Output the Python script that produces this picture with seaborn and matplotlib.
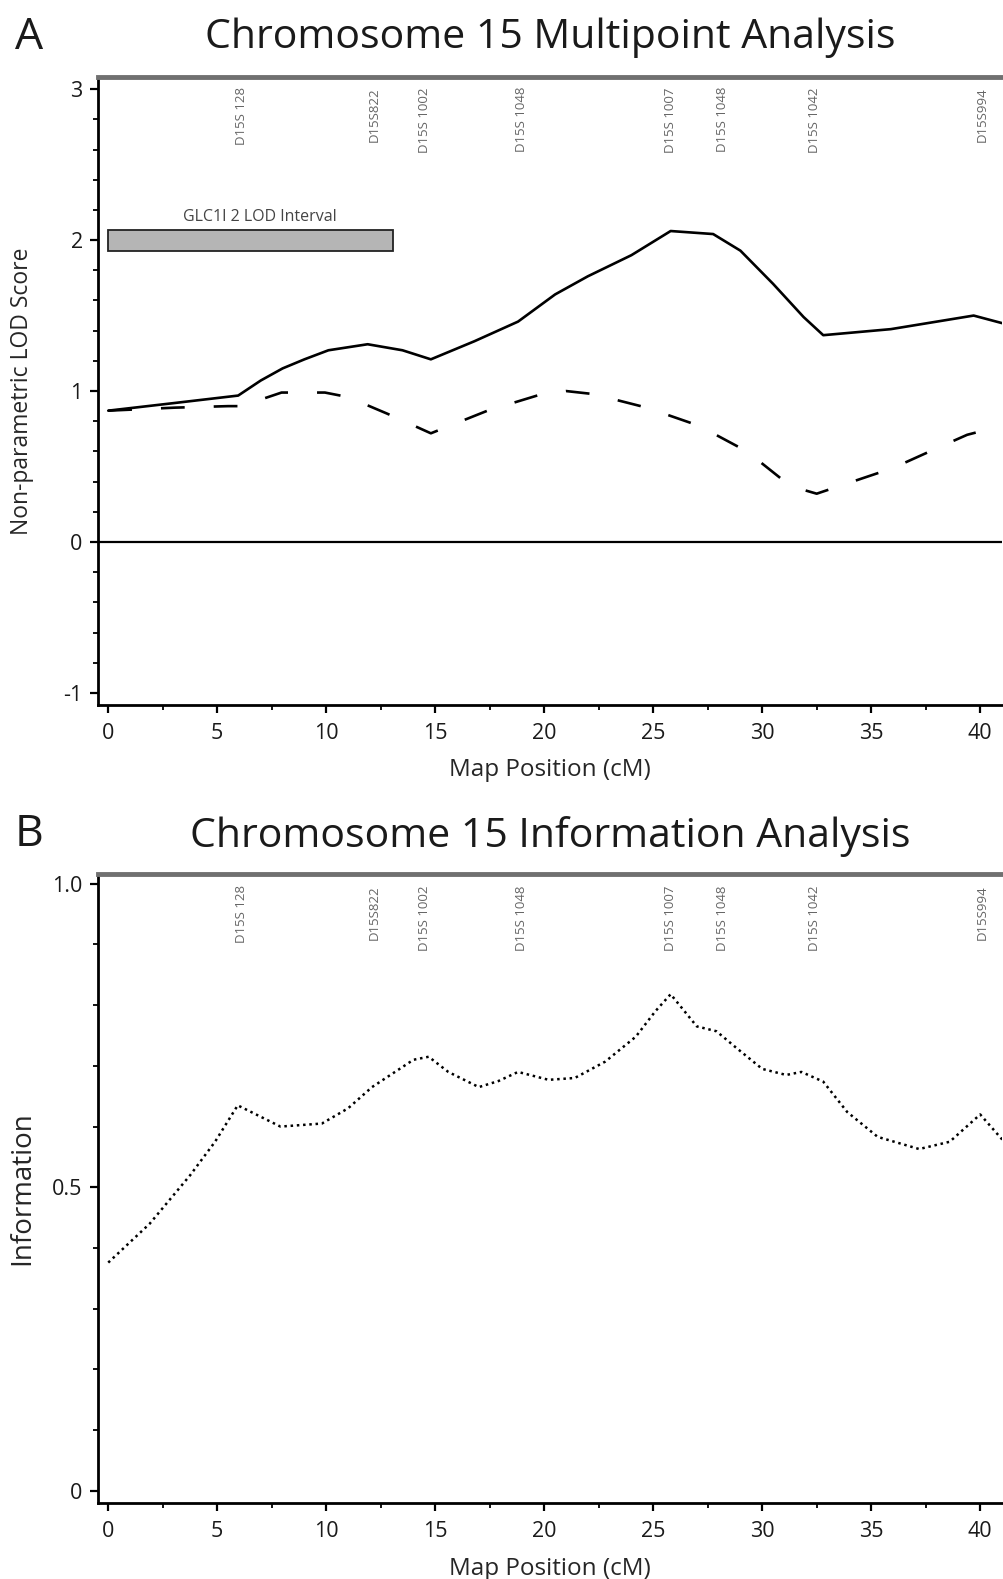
import numpy as np
import pandas as pd
import matplotlib
matplotlib.use("Agg")
import matplotlib.pyplot as plt
from matplotlib.patches import Rectangle
from matplotlib.ticker import MultipleLocator, FixedLocator, FixedFormatter
import seaborn as sns

# ---------------- data ----------------
npl_pos = [0, 3.0, 5.96, 7.0, 8.0, 9.0, 10.1, 11.9, 13.5, 14.8, 16.8, 18.8,
           20.5, 22.0, 24.0, 25.8, 27.75, 29.0, 30.5, 31.9, 32.8, 35.9, 39.7, 41.0]
npl_lod = [0.87, 0.92, 0.97, 1.07, 1.15, 1.21, 1.27, 1.31, 1.27, 1.21, 1.33, 1.46,
           1.64, 1.76, 1.90, 2.06, 2.04, 1.93, 1.71, 1.49, 1.37, 1.41, 1.50, 1.45]

dash_pos = [0, 3.06, 5.5, 6.1, 7.95, 9.94, 11.0, 12.8, 14.8, 17.4, 19.9, 21.0,
            22.25, 24.7, 27.1, 29.3, 31.3, 32.5, 36.0, 38.15, 39.4, 41.0]
dash_lod = [0.87, 0.89, 0.90, 0.90, 0.99, 0.99, 0.96, 0.85, 0.72, 0.87, 0.98, 1.0,
            0.98, 0.89, 0.77, 0.60, 0.37, 0.32, 0.49, 0.63, 0.71, 0.77]

info_pos = [0, 1.9, 3.76, 4.9, 5.94, 7.9, 9.8, 11.0, 12.1, 14.0, 14.7, 15.6, 17.0,
            17.9, 18.8, 20.2, 21.4, 22.8, 24.2, 25.1, 25.8, 27.0, 27.9, 28.8, 30.0,
            31.1, 31.8, 32.8, 33.9, 35.3, 37.2, 38.6, 40.0, 41.1]
info_val = [0.376, 0.44, 0.52, 0.575, 0.635, 0.60, 0.605, 0.63, 0.665, 0.71, 0.715,
            0.69, 0.665, 0.675, 0.69, 0.677, 0.68, 0.707, 0.748, 0.79, 0.818, 0.765,
            0.757, 0.73, 0.695, 0.685, 0.69, 0.674, 0.624, 0.583, 0.563, 0.575, 0.62,
            0.575]

marker_names = ["D15S 128", "D15S822", "D15S 1002", "D15S 1048", "D15S 1007",
                "D15S 1048", "D15S 1042", "D15S994"]
marker_pos = [6.1, 12.2, 14.5, 18.95, 25.8, 28.2, 32.4, 40.1]

interval_label = "GLC1I 2 LOD Interval"
interval_start, interval_end = 0.0, 13.05
interval_low, interval_high = 1.93, 2.07

lod_ticks = [-1, 0, 1, 2, 3]
info_ticks = [0, 0.5, 1.0]
info_ticklabels = ["0", "0.5", "1.0"]
x_ticks = [0, 5, 10, 15, 20, 25, 30, 35, 40]

# ---------------- style ----------------
sns.set_style("ticks")
plt.rcParams['font.family'] = ['Open Sans', 'DejaVu Sans']
plt.rcParams['text.color'] = '#1a1a1a'
plt.rcParams['axes.unicode_minus'] = False

fig = plt.figure(figsize=(10.04, 15.79), dpi=100)
axA = fig.add_axes([0.0976, 0.5535, 0.9004, 0.3977])
axB = fig.add_axes([0.0976, 0.0481, 0.9004, 0.3984])

df_npl = pd.DataFrame({"pos": npl_pos, "lod": npl_lod})
df_dash = pd.DataFrame({"pos": dash_pos, "lod": dash_lod})
df_info = pd.DataFrame({"pos": info_pos, "info": info_val})

sns.lineplot(data=df_npl, x="pos", y="lod", ax=axA, color="black", lw=1.9,
             estimator=None, sort=False)
sns.lineplot(data=df_dash, x="pos", y="lod", ax=axA, color="black", lw=1.9,
             linestyle=(0, (9, 11)), estimator=None, sort=False)
sns.lineplot(data=df_info, x="pos", y="info", ax=axB, color="black", lw=1.8,
             linestyle=(0, (1, 1.5)), estimator=None, sort=False)

axA.axhline(0, color="black", lw=1.6, zorder=1)
axA.add_patch(Rectangle((interval_start, interval_low), interval_end - interval_start,
                        interval_high - interval_low, facecolor="#b5b5b5",
                        edgecolor="#222222", lw=1.3, zorder=3))
axA.text((interval_start + interval_end) / 2 + 0.45, 2.15, interval_label,
         ha="center", va="center", fontsize=11.5, color="#444444")

for ax, ylim, ytop in [(axA, (-1.08, 3.08), 0.984), (axB, (-0.02, 1.016), 0.982)]:
    ax.set_xlim(-0.47, 41.0)
    ax.set_ylim(*ylim)
    for name, pos in zip(marker_names, marker_pos):
        ax.text(pos, ytop, name, transform=ax.get_xaxis_transform(), rotation=90,
                ha="center", va="top", fontsize=9.5, color="#666666")
    ax.spines["right"].set_visible(False)
    ax.spines["top"].set_color("#707070")
    ax.spines["top"].set_linewidth(3.5)
    ax.spines["left"].set_linewidth(2.0)
    ax.spines["bottom"].set_linewidth(2.0)
    ax.spines["left"].set_color("black")
    ax.spines["bottom"].set_color("black")
    ax.xaxis.set_major_locator(FixedLocator(x_ticks))
    ax.xaxis.set_minor_locator(MultipleLocator(2.5))
    ax.tick_params(axis="both", which="major", direction="out", length=6, width=1.6,
                   labelsize=15.5, color="black", labelcolor="#1a1a1a", pad=5)
    ax.tick_params(axis="x", which="major", pad=7)
    ax.tick_params(axis="both", which="minor", direction="out", length=3.5, width=1.3,
                   color="black")
    ax.set_xlabel("Map Position (cM)", fontsize=17.5)
    ax.xaxis.set_label_coords(0.5, -0.085)

axA.yaxis.set_major_locator(FixedLocator(lod_ticks))
axA.yaxis.set_minor_locator(MultipleLocator(0.2))
axA.set_ylabel("Non-parametric LOD Score", fontsize=16.5)
axA.yaxis.set_label_coords(-0.071, 0.5)

axB.yaxis.set_major_locator(FixedLocator(info_ticks))
axB.yaxis.set_major_formatter(FixedFormatter(info_ticklabels))
axB.yaxis.set_minor_locator(MultipleLocator(0.1))
axB.set_ylabel("Information", fontsize=20)
axB.yaxis.set_label_coords(-0.068, 0.5)

fig.text(0.015, 0.976, "A", fontsize=32, ha="left", va="center")
fig.text(0.548, 0.976, "Chromosome 15 Multipoint Analysis", fontsize=29.5,
         ha="center", va="center")
fig.text(0.015, 0.4715, "B", fontsize=32, ha="left", va="center")
fig.text(0.548, 0.4705, "Chromosome 15 Information Analysis", fontsize=29.5,
         ha="center", va="center")

fig.savefig("out.png", dpi=100, facecolor="white")
